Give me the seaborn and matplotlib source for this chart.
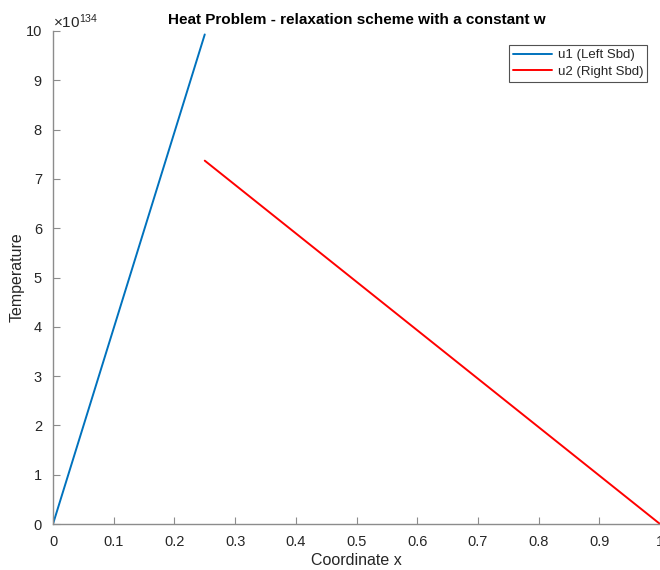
import numpy as np
import pandas as pd
import matplotlib
matplotlib.use("Agg")
import matplotlib.pyplot as plt
import seaborn as sns

# data
x_left = [0.0, 0.25]
u1_left = [0.0, 9.93e134]
x_right = [0.25, 1.0]
u2_right = [7.37e134, 0.0]
x_ticks = [0, 0.1, 0.2, 0.3, 0.4, 0.5, 0.6, 0.7, 0.8, 0.9, 1]
y_ticks = [0, 1, 2, 3, 4, 5, 6, 7, 8, 9, 10]

sns.set_theme(style="ticks")
plt.rcParams['font.family'] = ['Liberation Sans', 'DejaVu Sans']
plt.rcParams['mathtext.fontset'] = 'custom'
plt.rcParams['mathtext.rm'] = 'Liberation Sans'
plt.rcParams['mathtext.it'] = 'Liberation Sans'

fig = plt.figure(figsize=(6.6, 5.7), dpi=100)
ax = fig.add_axes([53/660, 1-524/570, 1-53/660, (524-31)/570])

df1 = pd.DataFrame({"x": x_left, "u": u1_left})
df2 = pd.DataFrame({"x": x_right, "u": u2_right})
sns.lineplot(data=df1, x="x", y="u", ax=ax, color="#0072BD", lw=1.4, label="u1 (Left Sbd)")
sns.lineplot(data=df2, x="x", y="u", ax=ax, color="#FF0000", lw=1.4, label="u2 (Right Sbd)")

ax.set_xlim(0, 1)
ax.set_ylim(0, 1e135)
ax.set_xticks(x_ticks)
ax.set_xticklabels([f"{t:g}" for t in x_ticks])
ax.set_yticks([t * 1e134 for t in y_ticks])
ax.set_yticklabels([str(t) for t in y_ticks])

gray = "#262626"
for s in ["top", "right"]:
    ax.spines[s].set_visible(False)
for s in ["left", "bottom"]:
    ax.spines[s].set_color("#8c8c8c")
    ax.spines[s].set_linewidth(1.0)
ax.tick_params(direction="in", length=5, width=0.8, color="#8c8c8c",
               labelcolor=gray, labelsize=10.5)
ax.tick_params(axis="y", pad=8)
ax.tick_params(axis="x", pad=8)
ax.text(0.0, (524-28)/493, r"$\times10^{134}$", transform=ax.transAxes, ha="left",
        va="baseline", fontsize=11, color=gray)

fig.text((53+660)/2/660, 1-20/570, "Heat Problem - relaxation scheme with a constant w",
         fontsize=11, fontweight="bold", color="black", ha="center", va="center")
ax.set_xlabel("Coordinate x", fontsize=11.5, color=gray, labelpad=3)
ax.set_ylabel("Temperature", fontsize=11.5, color=gray)
ax.yaxis.set_label_coords((25-53)/607, 0.5)

leg = ax.legend(loc="upper right", bbox_to_anchor=((647-53)/607, (524-45)/493),
                borderaxespad=0, fontsize=9.5,
                frameon=True, fancybox=False, handlelength=3.0, borderpad=0.3,
                labelspacing=0.35, handletextpad=0.4)
leg.get_frame().set_edgecolor("#262626")
leg.get_frame().set_linewidth(0.8)
for t in leg.get_texts():
    t.set_color(gray)

fig.savefig("out.png", dpi=100)
